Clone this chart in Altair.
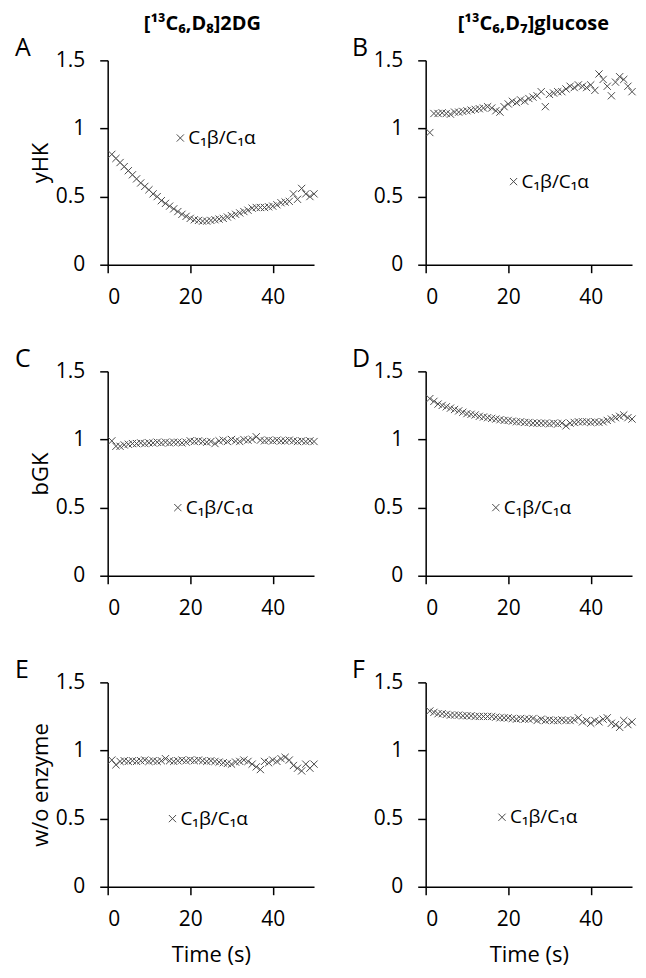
import altair as alt
import pandas as pd

FONT = "Open Sans"

time_s = [1, 2, 3, 4, 5, 6, 7, 8, 9, 10, 11, 12, 13, 14, 15, 16, 17, 18, 19, 20,
          21, 22, 23, 24, 25, 26, 27, 28, 29, 30, 31, 32, 33, 34, 35, 36, 37, 38, 39, 40,
          41, 42, 43, 44, 45, 46, 47, 48, 49, 50]

ratio_a = [0.81, 0.78, 0.75, 0.72, 0.69, 0.66, 0.63, 0.60, 0.575, 0.55,
           0.52, 0.50, 0.47, 0.45, 0.43, 0.41, 0.39, 0.37, 0.355, 0.34,
           0.33, 0.325, 0.32, 0.32, 0.325, 0.33, 0.335, 0.34, 0.35, 0.36,
           0.37, 0.38, 0.39, 0.40, 0.415, 0.42, 0.42, 0.42, 0.425, 0.43,
           0.44, 0.455, 0.46, 0.465, 0.52, 0.48, 0.56, 0.52, 0.50, 0.52]

ratio_b = [0.97, 1.11, 1.11, 1.115, 1.11, 1.105, 1.12, 1.12, 1.125, 1.13,
           1.135, 1.14, 1.145, 1.15, 1.16, 1.15, 1.13, 1.12, 1.16, 1.18,
           1.20, 1.19, 1.21, 1.20, 1.22, 1.23, 1.24, 1.27, 1.16, 1.25,
           1.26, 1.27, 1.27, 1.29, 1.31, 1.30, 1.32, 1.31, 1.30, 1.32,
           1.28, 1.40, 1.36, 1.31, 1.24, 1.34, 1.38, 1.36, 1.31, 1.27]

ratio_c = [0.99, 0.95, 0.95, 0.96, 0.965, 0.97, 0.97, 0.975, 0.97, 0.975,
           0.975, 0.98, 0.975, 0.98, 0.975, 0.98, 0.98, 0.975, 0.98, 0.99,
           0.985, 0.99, 0.985, 0.98, 0.985, 0.97, 0.99, 0.995, 0.985, 1.0,
           0.99, 0.985, 1.0, 0.995, 1.0, 1.02, 0.995, 0.99, 0.995, 0.99,
           0.995, 0.99, 0.99, 0.995, 0.99, 0.985, 0.99, 0.985, 0.99, 0.985]

ratio_d = [1.30, 1.28, 1.26, 1.25, 1.24, 1.23, 1.22, 1.21, 1.20, 1.19,
           1.185, 1.18, 1.17, 1.165, 1.16, 1.155, 1.15, 1.145, 1.14, 1.14,
           1.135, 1.13, 1.13, 1.125, 1.125, 1.12, 1.12, 1.12, 1.12, 1.115,
           1.12, 1.115, 1.12, 1.10, 1.12, 1.125, 1.13, 1.13, 1.13, 1.125,
           1.13, 1.125, 1.13, 1.14, 1.15, 1.16, 1.17, 1.18, 1.16, 1.15]

ratio_e = [0.93, 0.895, 0.92, 0.925, 0.92, 0.925, 0.92, 0.925, 0.93, 0.92,
           0.925, 0.92, 0.925, 0.94, 0.925, 0.92, 0.925, 0.93, 0.925, 0.93,
           0.925, 0.93, 0.925, 0.92, 0.925, 0.92, 0.915, 0.91, 0.905, 0.90,
           0.915, 0.92, 0.93, 0.92, 0.90, 0.88, 0.86, 0.92, 0.91, 0.93,
           0.92, 0.94, 0.95, 0.93, 0.89, 0.87, 0.85, 0.90, 0.87, 0.90]

ratio_f = [1.29, 1.28, 1.27, 1.27, 1.265, 1.26, 1.26, 1.26, 1.255, 1.255,
           1.255, 1.25, 1.25, 1.25, 1.25, 1.25, 1.245, 1.24, 1.24, 1.24,
           1.235, 1.23, 1.235, 1.23, 1.23, 1.235, 1.22, 1.23, 1.22, 1.225,
           1.22, 1.22, 1.225, 1.22, 1.22, 1.225, 1.24, 1.21, 1.22, 1.20,
           1.22, 1.21, 1.23, 1.24, 1.20, 1.19, 1.17, 1.22, 1.19, 1.21]

panel_letters = ["A", "B", "C", "D", "E", "F"]
row_titles = ["yHK", "bGK", "w/o enzyme"]
column_titles = ["[\u00b9\u00b3C\u2086,D\u2088]2DG", "[\u00b9\u00b3C\u2086,D\u2087]glucose"]
legend_label = "C\u2081\u03b2/C\u2081\u03b1"
legend_t = [17.6, 21.3, 17.0, 17.0, 15.7, 18.5]
legend_v = [0.93, 0.61, 0.50, 0.50, 0.50, 0.51]

CROSS = "M-1,-1L1,1M1,-1L-1,1"
W = 207
H = 205


def panel(vals, idx, ytitle=None, coltitle=None, xtitle=False):
    df = pd.DataFrame({"t": time_s, "r": vals})
    xaxis = dict(values=[0, 20, 40], format="d", labelPadding=14, tickSize=8,
                 titlePadding=15)
    xaxis["title"] = "Time (s)" if xtitle else None
    yaxis = dict(values=[0, 0.5, 1, 1.5], format="~g", labelPadding=15, tickSize=8)
    if ytitle:
        yaxis.update(title=ytitle, titleX=-67, titleY=H / 2, titleAngle=-90,
                     titleBaseline="middle", titleAlign="center")
    else:
        yaxis["title"] = None
    x = alt.X("t:Q", scale=alt.Scale(domain=[0, 50], nice=False, zero=False),
              axis=alt.Axis(**xaxis))
    y = alt.Y("r:Q", scale=alt.Scale(domain=[0, 1.5], nice=False),
              axis=alt.Axis(**yaxis))
    pts = alt.Chart(df).mark_point(
        shape=CROSS, filled=False, size=52, stroke="#4a4a4a", strokeWidth=1,
        opacity=1, clip=False
    ).encode(x=x, y=y)
    leg = pd.DataFrame({"t": [legend_t[idx]], "r": [legend_v[idx]], "label": [legend_label]})
    leg_pt = alt.Chart(leg).mark_point(
        shape=CROSS, filled=False, size=52, stroke="#4a4a4a", strokeWidth=1, opacity=1
    ).encode(x=x, y=y)
    leg_tx = alt.Chart(leg).mark_text(
        align="left", baseline="middle", dx=8, fontSize=19, font=FONT, color="black"
    ).encode(x=x, y=y, text="label:N")
    lt = pd.DataFrame({"l": [panel_letters[idx]]})
    let = alt.Chart(lt).mark_text(
        align="left", baseline="alphabetic", fontSize=25, font=FONT, color="black"
    ).encode(x=alt.value(-93 if idx % 2 == 0 else -74), y=alt.value(-4), text="l:N")
    layers = [pts, leg_pt, leg_tx, let]
    if coltitle:
        ct = pd.DataFrame({"c": [coltitle]})
        layers.append(alt.Chart(ct).mark_text(
            align="center", baseline="middle", fontSize=20, fontWeight="bold",
            font=FONT, color="black"
        ).encode(x=alt.value(95 if idx == 0 else 108), y=alt.value(-36), text="c:N"))
    return alt.layer(*layers).properties(width=W, height=H)


pa = panel(ratio_a, 0, ytitle=row_titles[0], coltitle=column_titles[0])
pb = panel(ratio_b, 1, coltitle=column_titles[1])
pc = panel(ratio_c, 2, ytitle=row_titles[1])
pd_ = panel(ratio_d, 3)
pe = panel(ratio_e, 4, ytitle=row_titles[2], xtitle=True)
pf = panel(ratio_f, 5, xtitle=True)

chart = alt.concat(
    pa, pb, pc, pd_, pe, pf, columns=2,
    spacing={"row": 107, "column": 112}, bounds="flush"
).properties(
    padding={"left": 7, "top": 5, "right": 0, "bottom": 0}
).configure_view(stroke=None).configure_axis(
    grid=False, domainColor="black", tickColor="black", labelColor="black",
    titleColor="black", domainWidth=1.5, tickWidth=1.5,
    labelFont=FONT, labelFontSize=21, titleFont=FONT, titleFontSize=22,
    titleFontWeight="normal"
)

chart.save("out.html", embed_options={"renderer": "svg", "actions": False})
